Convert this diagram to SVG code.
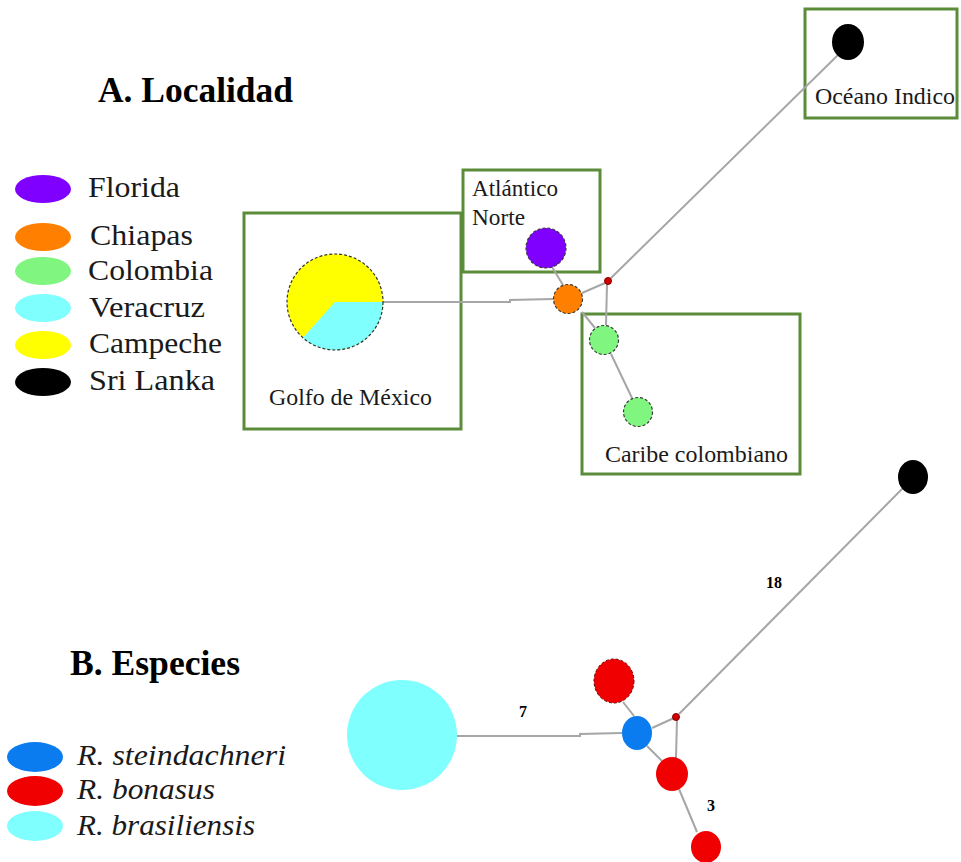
<svg xmlns="http://www.w3.org/2000/svg" width="961" height="862" viewBox="0 0 961 862">
<style>
.t{font-family:"Liberation Serif","Times New Roman",serif;fill:#1a1a1a}
.title{font-weight:bold;font-size:35px;fill:#000}
.leg{font-size:30px}
.legi{font-size:30px;font-style:italic}
.lbl{font-size:23px}
.num{font-size:16px;font-weight:bold;fill:#000}
.box{fill:none;stroke:#5b8c3a;stroke-width:3}
.edge{fill:none;stroke:#a6a6a6;stroke-width:2}
.nd{stroke:#3a3a3a;stroke-width:1.2;stroke-dasharray:3 2}
</style>
<rect width="961" height="862" fill="#fff"/>

<text class="t title" x="98" y="102" textLength="195" lengthAdjust="spacingAndGlyphs">A. Localidad</text>
<text class="t title" x="70" y="675" textLength="170" lengthAdjust="spacingAndGlyphs">B. Especies</text>

<g id="legendA">
<ellipse cx="43" cy="189" rx="28" ry="14" fill="#7f00ff"/>
<ellipse cx="43" cy="237" rx="28" ry="14" fill="#ff8000"/>
<ellipse cx="43" cy="271" rx="28" ry="14" fill="#80f580"/>
<ellipse cx="43" cy="308" rx="28" ry="14" fill="#80ffff"/>
<ellipse cx="43" cy="345" rx="28" ry="14" fill="#ffff00"/>
<ellipse cx="43" cy="382" rx="28" ry="14" fill="#000"/>
<text class="t leg" x="88" y="197" textLength="92" lengthAdjust="spacingAndGlyphs">Florida</text>
<text class="t leg" x="90" y="245" textLength="103" lengthAdjust="spacingAndGlyphs">Chiapas</text>
<text class="t leg" x="88" y="280" textLength="125" lengthAdjust="spacingAndGlyphs">Colombia</text>
<text class="t leg" x="89" y="317" textLength="116" lengthAdjust="spacingAndGlyphs">Veracruz</text>
<text class="t leg" x="89" y="353" textLength="133" lengthAdjust="spacingAndGlyphs">Campeche</text>
<text class="t leg" x="89" y="390" textLength="126" lengthAdjust="spacingAndGlyphs">Sri Lanka</text>
</g>

<g id="legendB">
<ellipse cx="35" cy="757" rx="28" ry="15" fill="#0a7cf0"/>
<ellipse cx="35" cy="791" rx="28" ry="15" fill="#f00000"/>
<ellipse cx="35" cy="826" rx="28" ry="15" fill="#80ffff"/>
<text class="t legi" x="77" y="765" textLength="209" lengthAdjust="spacingAndGlyphs">R. steindachneri</text>
<text class="t legi" x="77" y="799" textLength="138" lengthAdjust="spacingAndGlyphs">R. bonasus</text>
<text class="t legi" x="77" y="835" textLength="178" lengthAdjust="spacingAndGlyphs">R. brasiliensis</text>
</g>

<g id="regions">
<rect class="box" x="244" y="213" width="217" height="216"/>
<rect class="box" x="463" y="170" width="137" height="102"/>
<rect class="box" x="582" y="314" width="218" height="160"/>
<rect class="box" x="805" y="9" width="152" height="109"/>
<text class="t lbl" x="269" y="405" textLength="163" lengthAdjust="spacingAndGlyphs">Golfo de México</text>
<text class="t lbl" x="472" y="196" textLength="86" lengthAdjust="spacingAndGlyphs">Atlántico</text>
<text class="t lbl" x="472" y="225" textLength="53" lengthAdjust="spacingAndGlyphs">Norte</text>
<text class="t lbl" x="605" y="462" textLength="183" lengthAdjust="spacingAndGlyphs">Caribe colombiano</text>
<text class="t lbl" x="815" y="104" textLength="140" lengthAdjust="spacingAndGlyphs">Océano Indico</text>
</g>

<g id="connectors">
<path class="edge" d="M383 302 L510 302 L510 300 L553 299"/>
<path class="edge" d="M552 267 L563 285"/>
<path class="edge" d="M582 293 L605 283"/>
<path class="edge" d="M610 279 L838 55"/>
<path class="edge" d="M607 284 L606 325"/>
<path class="edge" d="M582 312 L595 328"/>
<path class="edge" d="M611 354 L632 398"/>
<path class="edge" d="M457 736 L580 736 L580 734 L622 733"/>
<path class="edge" d="M634 716 L623 702"/>
<path class="edge" d="M652 728 L674 718"/>
<path class="edge" d="M677 719 L676 758"/>
<path class="edge" d="M647 746 L662 761"/>
<path class="edge" d="M679 789 L697 832"/>
<path class="edge" d="M679 714 L903 488"/>
</g>

<g id="pie">
<circle cx="335" cy="302" r="48" fill="#ffff00"/>
<path d="M335 302 L383 302 A48 48 0 0 1 302.9 337.7 Z" fill="#80ffff"/>
<circle cx="335" cy="302" r="48" fill="none" stroke="#333" stroke-width="1.2" stroke-dasharray="3 2"/>
</g>
<g id="florida"><circle class="nd" cx="546" cy="248" r="20" fill="#7f00ff"/></g>
<g id="chiapas"><circle class="nd" cx="568" cy="299" r="14.5" fill="#ff8000"/></g>
<g id="medianA"><circle cx="608" cy="281" r="3.5" fill="#d00000" stroke="#800" stroke-width="1"/></g>
<g id="colombia1"><circle class="nd" cx="604" cy="340" r="14.5" fill="#80f580"/></g>
<g id="colombia2"><circle class="nd" cx="638" cy="412" r="14.5" fill="#80f580"/></g>
<g id="srilankaA"><ellipse cx="848" cy="42" rx="16" ry="18" fill="#000"/></g>

<g id="brasiliensis"><circle cx="402" cy="735" r="55" fill="#80ffff"/></g>
<g id="steindachneri"><ellipse cx="637" cy="733" rx="15" ry="17" fill="#0a7cf0"/></g>
<g id="bonasus1"><ellipse cx="614" cy="681" rx="20" ry="22" fill="#f00000" stroke="#600" stroke-width="1" stroke-dasharray="3 2"/></g>
<g id="bonasus2"><ellipse cx="672" cy="774" rx="16" ry="17" fill="#f00000"/></g>
<g id="bonasus3"><ellipse cx="706" cy="847" rx="15" ry="16" fill="#f00000"/></g>
<g id="medianB"><circle cx="676" cy="717" r="3.5" fill="#d00000" stroke="#800" stroke-width="1"/></g>
<g id="srilankaB"><ellipse cx="913" cy="477" rx="15" ry="17" fill="#000"/></g>

<g id="edgeLabels">
<text class="t num" x="519" y="717">7</text>
<text class="t num" x="707" y="811">3</text>
<text class="t num" x="766" y="588">18</text>
</g>
</svg>
